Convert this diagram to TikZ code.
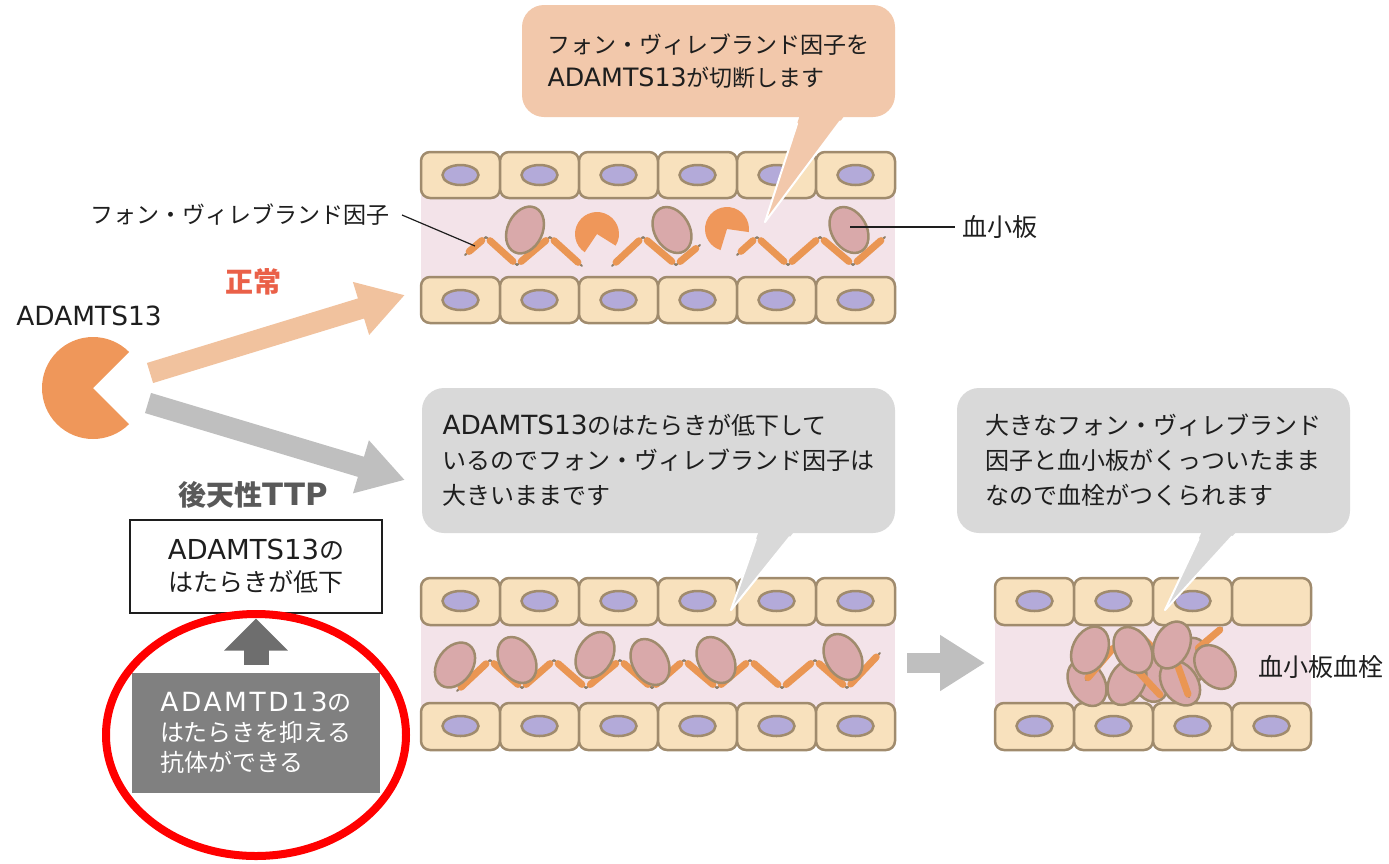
\documentclass[tikz,border=0pt]{standalone}
\usepackage{fontspec}
\setmainfont{Noto Sans CJK JP}
\newfontfamily\engfont[Scale=1.1]{DejaVu Sans}
\newfontfamily\engwide[Scale=1.1,LetterSpace=10]{DejaVu Sans}
\newcommand{\eng}[1]{{\engfont #1}}
\usepackage{tikz}
\usetikzlibrary{shapes.geometric, arrows.meta}

\definecolor{cellfill}{HTML}{F8E1BD}
\definecolor{cellline}{HTML}{A08B6D}
\definecolor{nucfill}{HTML}{B3AAD9}
\definecolor{bandpink}{HTML}{F3E3E9}
\definecolor{pltfill}{HTML}{D9A9AA}
\definecolor{rodcolor}{HTML}{EA9653}
\definecolor{rodgray}{HTML}{8C7E6A}
\definecolor{pacorange}{HTML}{EF975A}
\definecolor{arrowpeach}{HTML}{F1C29E}
\definecolor{notepeach}{HTML}{F2C8AB}
\definecolor{notegray}{HTML}{D9D9D9}
\definecolor{arrowgray}{HTML}{BFBFBF}
\definecolor{boxgray}{HTML}{808080}
\definecolor{upgray}{HTML}{6E6E6E}
\definecolor{normalred}{HTML}{EA6048}
\definecolor{ttpgray}{HTML}{595959}
\definecolor{ink}{HTML}{1E1E1E}

\begin{document}
\begin{tikzpicture}[x=1pt, y=-1pt,
    cell/.style={draw=cellline, fill=cellfill, line width=2.5pt, rounded corners=9pt},
    nucleus/.style={draw=cellline, fill=nucfill, line width=2.5pt},
    band/.style={fill=bandpink},
    plt/.style={ellipse, draw=cellline, fill=pltfill, line width=2.5pt,
        minimum width=35pt, minimum height=49pt, inner sep=0},
    vwf/.style={draw=rodcolor, line width=7pt, line cap=round, shorten <=5.5pt, shorten >=5.5pt},
    vwfcore/.style={draw=rodgray, line width=2pt, line join=round, line cap=round},
    enzyme/.style={fill=pacorange},
    note/.style={rounded corners=22pt, inner sep=0, align=left, text=ink,
        font=\fontsize{24}{35}\selectfont},
    label/.style={text=ink, inner sep=0}]

    \useasboundingbox (0,0) rectangle (1389,863);

    % Vessel walls
    \fill[band] (421,195) rectangle (895,280);
    \fill[band] (421,620) rectangle (895,708);
    \fill[band] (995,620) rectangle (1311,708);
    \foreach \x in {421,500,...,816} {
        \draw[cell] (\x,152) rectangle ++(79,46);
        \draw[nucleus] (\x+39.5,175) ellipse [x radius=18pt, y radius=10pt];
        \draw[cell] (\x,277) rectangle ++(79,46);
        \draw[nucleus] (\x+39.5,300) ellipse [x radius=18pt, y radius=10pt];
        \draw[cell] (\x,578) rectangle ++(79,47);
        \draw[nucleus] (\x+39.5,601) ellipse [x radius=18pt, y radius=10pt];
        \draw[cell] (\x,703) rectangle ++(79,47);
        \draw[nucleus] (\x+39.5,726) ellipse [x radius=18pt, y radius=10pt];
    }
    \foreach \x in {995,1074,...,1232} {
        \draw[cell] (\x,578) rectangle ++(79,47);
        \ifnum\x<1232
            \draw[nucleus] (\x+39.5,601) ellipse [x radius=18pt, y radius=10pt];
        \fi
        \draw[cell] (\x,703) rectangle ++(79,47);
        \draw[nucleus] (\x+39.5,726) ellipse [x radius=18pt, y radius=10pt];
    }

    % Cut von Willebrand factor
    \draw[vwfcore] (465,255) -- (486,237) -- (517,265) -- (550,237) -- (582,266);
    \draw[vwfcore] (612,266) -- (643,237) -- (676,265) -- (700,245);
    \draw[vwfcore] (737,255) -- (757,237) -- (788,265) -- (820,237) -- (853,265) -- (885,237);
    \foreach \x/\y [remember=\x as \lx (initially 465), remember=\y as \ly (initially 255)]
        in {486/237, 517/265, 550/237, 582/266}
        \draw[vwf] (\lx,\ly) -- (\x,\y);
    \foreach \x/\y [remember=\x as \lx (initially 612), remember=\y as \ly (initially 266)]
        in {643/237, 676/265, 700/245}
        \draw[vwf] (\lx,\ly) -- (\x,\y);
    \foreach \x/\y [remember=\x as \lx (initially 737), remember=\y as \ly (initially 255)]
        in {757/237, 788/265, 820/237, 853/265, 885/237}
        \draw[vwf] (\lx,\ly) -- (\x,\y);

    \node[plt, rotate=-25] (p1) at (525,230) {};
    \node[plt, rotate=30] (p2) at (672,230) {};
    \node[plt, rotate=30] (p3) at (849,230) {};
    \fill[enzyme] (597,234) -- ++(-32:22pt) arc[start angle=-32, end angle=236, radius=22pt] -- cycle;
    \fill[enzyme] (727,229) -- ++(-8:22pt) arc[start angle=-8, end angle=253, radius=22pt] -- cycle;

    % Long von Willebrand factor
    \draw[vwfcore] (457,691) -- (490,660) -- (522,688) -- (554,660) -- (586,688) -- (620,660)
        -- (652,688) -- (684,660) -- (717,688) -- (750,660) -- (782,688) -- (815,660)
        -- (847,688) -- (880,653);
    \foreach \x/\y [remember=\x as \lx (initially 457), remember=\y as \ly (initially 691)]
        in {490/660, 522/688, 554/660, 586/688, 620/660, 652/688, 684/660,
            717/688, 750/660, 782/688, 815/660, 847/688, 880/653}
        \draw[vwf] (\lx,\ly) -- (\x,\y);

    \node[plt, rotate=-35] (q1) at (455,665) {};
    \node[plt, rotate=30] (q2) at (517,660) {};
    \node[plt, rotate=-30] (q3) at (595,655) {};
    \node[plt, rotate=30] (q4) at (650,662) {};
    \node[plt, rotate=30] (q5) at (716,660) {};
    \node[plt, rotate=30] (q6) at (843,657) {};

    % Thrombus
    \node[plt, rotate=20] (c7) at (1150,678) {};
    \node[plt, rotate=-15] (c9) at (1190,662) {};
    \node[plt, rotate=30] (c5) at (1087,683) {};
    \node[plt, rotate=-30] (c6) at (1127,682) {};
    \node[plt, rotate=35] (c8) at (1180,683) {};
    \draw[vwfcore] (1086,680) -- (1115,646);
    \draw[vwf, shorten <=3pt, shorten >=3pt] (1086,680) -- (1115,646);
    \draw[vwfcore] (1133,666) -- (1162,697);
    \draw[vwf, shorten <=3pt, shorten >=3pt] (1133,666) -- (1162,697);
    \draw[vwfcore] (1174,655) -- (1189,697);
    \draw[vwf, shorten <=3pt, shorten >=3pt] (1174,655) -- (1189,697);
    \draw[vwfcore] (1135,630) -- (1155,650);
    \draw[vwf, shorten <=3pt, shorten >=3pt] (1135,630) -- (1155,650);
    \draw[vwfcore] (1196,650) -- (1222,628);
    \draw[vwf, shorten <=3pt, shorten >=3pt] (1196,650) -- (1222,628);
    \node[plt, rotate=-25] (c1) at (1090,650) {};
    \node[plt, rotate=30] (c2) at (1133,650) {};
    \node[plt, rotate=-25] (c3) at (1172,645) {};
    \node[plt, rotate=40] (c4) at (1215,667) {};

    % Labels
    \node[label, anchor=east, font=\fontsize{23}{30}\selectfont] (vwfLabel) at (390,215) {フォン・ヴィレブランド因子};
    \coordinate (vwfTip) at (475,246);
    \draw[ink, line width=1.2pt] ([xshift=12pt]vwfLabel.east) -- (vwfTip);
    \node[label, anchor=west, font=\fontsize{25}{30}\selectfont] (pltLabel) at (962,227) {血小板};
    \coordinate (pltTip) at (850,227);
    \draw[ink, line width=1.2pt] (pltTip) -- ([xshift=-7pt]pltLabel.west);
    \node[label, anchor=west, font=\fontsize{25}{30}\selectfont] (clotLabel) at (1258,667) {血小板血栓};

    % Callouts
    \node[note, fill=notepeach, minimum width=373pt, minimum height=112pt,
        font=\fontsize{23}{33}\selectfont] (cutNote) at (708.5,61)
        {フォン・ヴィレブランド因子を\\\eng{ADAMTS13}が切断します};
    \coordinate (cutTip) at (765,222);
    \fill[notepeach] ([shift={(93,-7)}]cutNote.south) -- (cutTip) -- ([shift={(140,-7)}]cutNote.south) -- cycle;
    \draw[white, line width=2pt, line cap=round, shorten >=14pt] (cutTip) -- ([shift={(93,-7)}]cutNote.south);
    \draw[white, line width=2pt, line cap=round, shorten >=14pt] (cutTip) -- ([shift={(140,-7)}]cutNote.south);

    \node[note, fill=notegray, minimum width=473pt, minimum height=145pt] (slowNote) at (658.5,460.5)
        {\eng{ADAMTS13}のはたらきが低下して\\いるのでフォン・ヴィレブランド因子は\\大きいままです};
    \coordinate (slowTip) at (731,610);
    \fill[notegray] ([shift={(102,-7)}]slowNote.south) -- (slowTip) -- ([shift={(140,-7)}]slowNote.south) -- cycle;
    \draw[white, line width=2pt, line cap=round, shorten >=14pt] (slowTip) -- ([shift={(102,-7)}]slowNote.south);
    \draw[white, line width=2pt, line cap=round, shorten >=14pt] (slowTip) -- ([shift={(140,-7)}]slowNote.south);

    \node[note, fill=notegray, minimum width=393pt, minimum height=145pt] (clotNote) at (1153.5,460.5)
        {大きなフォン・ヴィレブランド\\因子と血小板がくっついたまま\\なので血栓がつくられます};
    \coordinate (clotTip) at (1165,610);
    \fill[notegray] ([shift={(51,-7)}]clotNote.south) -- (clotTip) -- ([shift={(88,-7)}]clotNote.south) -- cycle;
    \draw[white, line width=2pt, line cap=round, shorten >=14pt] (clotTip) -- ([shift={(51,-7)}]clotNote.south);
    \draw[white, line width=2pt, line cap=round, shorten >=14pt] (clotTip) -- ([shift={(88,-7)}]clotNote.south);

    % ADAMTS13 and the two paths
    \node[label, font=\fontsize{24}{30}\selectfont] (adamtsLabel) at (89,316) {\eng{ADAMTS13}};
    \fill[enzyme] (93,388) -- ++(45:51pt) arc[start angle=45, end angle=315, radius=51pt] -- cycle;
    \coordinate (normStart) at (150,373);
    \coordinate (normEnd) at (405,295);
    \coordinate (ttpStart) at (148,403);
    \coordinate (ttpEnd) at (405,480);
    \draw[arrowpeach, line width=21pt, -{Triangle[length=46pt, width=52pt]}] (normStart) -- (normEnd);
    \draw[arrowgray, line width=21pt, -{Triangle[length=46pt, width=52pt]}] (ttpStart) -- (ttpEnd);
    \node[text=normalred, inner sep=0, font=\fontsize{28}{30}\selectfont\bfseries] (normal) at (253,282) {正常};
    \node[text=ttpgray, inner sep=0, font=\fontsize{28}{30}\selectfont\bfseries] (ttp) at (253,495) {後天性\eng{TTP}};

    % Cause
    \node[draw=ink, line width=2pt, minimum width=252pt, minimum height=93pt, align=center,
        text=ink, font=\fontsize{25}{32}\selectfont] (slowBox) at (256,566)
        {\eng{ADAMTS13}の\\はたらきが低下};
    \node[fill=boxgray, text=white, minimum width=248pt, minimum height=120pt, align=left,
        font=\fontsize{24}{30}\selectfont] (antibody) at (256,733)
        {{\engwide ADAMTD13}の\\はたらきを抑える\\抗体ができる};
    \draw[upgray, line width=25pt, -{Triangle[length=32pt, width=62pt]}] ([yshift=8pt]antibody.north) -- ([yshift=-5pt]slowBox.south);
    \draw[red, line width=8pt] (256,735) ellipse [x radius=150pt, y radius=121pt];

    % Towards the thrombus
    \coordinate (midRight) at (907,663);
    \coordinate (clotLeft) at (985,663);
    \draw[arrowgray, line width=20pt, -{Triangle[length=45pt, width=53pt]}] (midRight) -- (clotLeft);

\end{tikzpicture}
\end{document}
